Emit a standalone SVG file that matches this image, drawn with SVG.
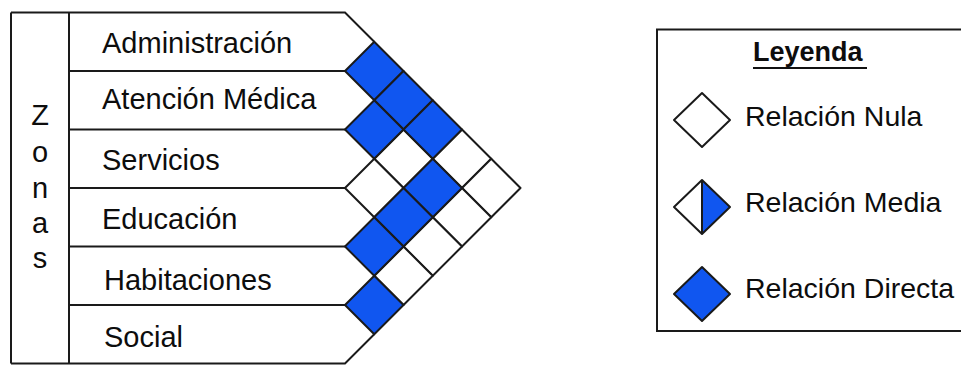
<svg xmlns="http://www.w3.org/2000/svg" xmlns:xlink="http://www.w3.org/1999/xlink" width="961" height="365" viewBox="0 0 961 365">
<style>
.ln{stroke:#1a1a1a;stroke-width:2;fill:none}
.t{font-family:"Liberation Sans",Arial,sans-serif;font-size:29px;fill:#0d0d0d}
.tl{font-family:"Liberation Sans",Arial,sans-serif;font-size:28.5px;fill:#0d0d0d}
.b{fill:#1056F0;stroke:#1a1a1a;stroke-width:2;stroke-linejoin:round}
.w{fill:#fff;stroke:#1a1a1a;stroke-width:2;stroke-linejoin:round}
.lg{font-family:"Liberation Sans",Arial,sans-serif;font-size:27px;font-weight:bold;fill:#0d0d0d}
</style>
<defs>
<path id="dm" d="M-29.25 0L0 -29.25L29.25 0L0 29.25Z"/>
</defs>
<rect width="961" height="365" fill="#fff"/>
<g id="frame">
<path class="ln" d="M11 12.5H345L374.25 41.75M11 363.5H345L374.25 334.25M11 12.5V363.5M69 12.5V363.5"/>
<path class="ln" d="M69 71H345M69 129.5H345M69 188H345M69 246.5H345M69 305H345"/>
</g>
<g id="zonas" class="t" text-anchor="middle">
<text x="40" y="125">Z</text>
<text x="40" y="162">o</text>
<text x="40" y="198">n</text>
<text x="40" y="233">a</text>
<text x="40" y="268">s</text>
</g>
<g id="row-administracion"><text class="t" x="102" y="53">Administración</text></g>
<g id="row-atencion"><text class="t" x="102" y="109">Atención Médica</text></g>
<g id="row-servicios"><text class="t" x="102" y="170">Servicios</text></g>
<g id="row-educacion"><text class="t" x="102" y="229">Educación</text></g>
<g id="row-habitaciones"><text class="t" x="104" y="290">Habitaciones</text></g>
<g id="row-social"><text class="t" x="104" y="347">Social</text></g>
<g id="matrix">
<use xlink:href="#dm" class="w" x="403.5" y="158.75"/>
<use xlink:href="#dm" class="w" x="374.25" y="188"/>
<use xlink:href="#dm" class="w" x="462" y="158.75"/>
<use xlink:href="#dm" class="w" x="491.25" y="188"/>
<use xlink:href="#dm" class="w" x="462" y="217.25"/>
<use xlink:href="#dm" class="w" x="432.75" y="246.5"/>
<use xlink:href="#dm" class="w" x="403.5" y="275.75"/>
<use xlink:href="#dm" class="b" x="374.25" y="71"/>
<use xlink:href="#dm" class="b" x="403.5" y="100.25"/>
<use xlink:href="#dm" class="b" x="374.25" y="129.5"/>
<use xlink:href="#dm" class="b" x="432.75" y="129.5"/>
<use xlink:href="#dm" class="b" x="432.75" y="188"/>
<use xlink:href="#dm" class="b" x="403.5" y="217.25"/>
<use xlink:href="#dm" class="b" x="374.25" y="246.5"/>
<use xlink:href="#dm" class="b" x="374.25" y="305"/>
</g>
<g id="legend">
<rect x="657" y="29.5" width="306" height="301.5" fill="#fff" stroke="#1a1a1a" stroke-width="2"/>
<text class="lg" x="753" y="61">Leyenda</text>
<line x1="753" y1="68" x2="867" y2="68" stroke="#111" stroke-width="2"/>
<g id="leg-nula">
<path class="w" d="M674 120L702 93L730 120L702 147Z"/>
<text class="tl" x="745" y="126">Relación Nula</text>
</g>
<g id="leg-media">
<path d="M702 180L730 207L702 234Z" fill="#1056F0"/>
<path class="ln" d="M674 207L702 180L730 207L702 234ZM702 180V234" stroke-linejoin="round"/>
<text class="tl" x="745" y="212">Relación Media</text>
</g>
<g id="leg-directa">
<path class="b" d="M674 294L702 267L730 294L702 321Z"/>
<text class="tl" x="745" y="298">Relación Directa</text>
</g>
</g>
</svg>
